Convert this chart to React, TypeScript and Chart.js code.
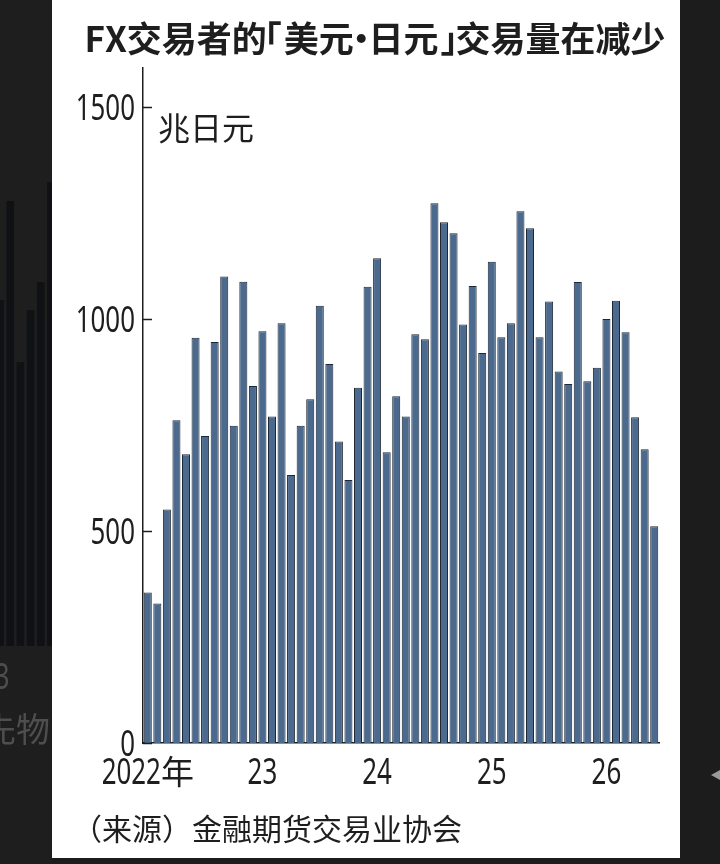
import { useEffect, useRef } from "react";
import { Chart, registerables } from "chart.js";

Chart.register(...registerables);

// ---- data ----
const years: number[] = [2022, 2023, 2024, 2025, 2026];
const lastMonthOfFinalYear = 6;
const monthLabels: string[] = [];
years.forEach((y, yi) => {
  const end = yi === years.length - 1 ? lastMonthOfFinalYear : 12;
  for (let m = 1; m <= end; m++) monthLabels.push(`${y}-${String(m).padStart(2, "0")}`);
});

// 兆日元, monthly (Jan 2022 – Jun 2026)
const tradingVolume: number[] = [
  355, 329, 551, 761, 681, 956, 724, 946, 1100, 748, 1088, 842,
  971, 770, 990, 632, 748, 811, 1031, 894, 711, 620, 838, 1076,
  1143, 686, 818, 770, 964, 952, 1273, 1228, 1202, 987, 1078, 920,
  1135, 957, 990, 1254, 1214, 957, 1041, 876, 847, 1087, 853, 885,
  1000, 1043, 969, 768, 693, 511,
];

const yTickValues: number[] = [0, 500, 1000, 1500];
const yearTickLabels: string[] = ["2022年", "23", "24", "25", "26"];

const titleText = "FX交易者的「美元·日元」交易量在减少";
const unitText = "兆日元";
const sourceText = "（来源）金融期货交易业协会";

// neighbouring slide fragment on the left edge
const sideValues: number[] = [346, 445, 284, 336, 364, 464];

// ---- styles ----
const BAR_FILL = "#4b6a8d";
const BAR_EDGE = "#1d2836";
const INK = "#1e1e1e";
const DIGIT_SX = 0.72;

function drawMixed(
  ctx: CanvasRenderingContext2D,
  text: string,
  x: number,
  cy: number,
  align: "left" | "center" | "right",
  digitPx: number,
  cjkPx: number,
  color: string
) {
  const runs = text.match(/[0-9]+|[^0-9]+/g) || [];
  const digitFont = `${digitPx}px "Noto Sans", "DejaVu Sans", sans-serif`;
  const cjkFont = `${cjkPx}px "Noto Sans CJK SC", sans-serif`;
  const widths = runs.map((r) => {
    const isD = /^[0-9]/.test(r);
    ctx.font = isD ? digitFont : cjkFont;
    const w = ctx.measureText(r).width;
    return isD ? w * DIGIT_SX : w;
  });
  const total = widths.reduce((a, b) => a + b, 0);
  let cur = align === "right" ? x - total : align === "center" ? x - total / 2 : x;
  ctx.save();
  ctx.fillStyle = color;
  ctx.textAlign = "left";
  ctx.textBaseline = "alphabetic";
  runs.forEach((r, i) => {
    const isD = /^[0-9]/.test(r);
    if (isD) {
      ctx.font = digitFont;
      ctx.save();
      ctx.translate(cur, cy + digitPx * 0.357);
      ctx.scale(DIGIT_SX, 1);
      ctx.fillText(r, 0, 0);
      ctx.restore();
    } else {
      ctx.font = cjkFont;
      ctx.fillText(r, cur, cy + cjkPx * 0.38);
    }
    cur += widths[i];
  });
  ctx.restore();
}

// title with narrow (proportional) brackets and middle dot
function drawTitle(ctx: CanvasRenderingContext2D, text: string, cx: number, cy: number, px: number) {
  ctx.save();
  ctx.font = `bold ${px}px "Noto Sans CJK SC", sans-serif`;
  ctx.fillStyle = INK;
  ctx.textAlign = "left";
  ctx.textBaseline = "alphabetic";
  const items = Array.from(text).map((ch) => {
    const m = ctx.measureText(ch);
    if (ch === "「" || ch === "」") {
      const inkL = -m.actualBoundingBoxLeft;
      const inkW = m.actualBoundingBoxRight + m.actualBoundingBoxLeft;
      return { ch, adv: inkW + 4, dx: 2 - inkL };
    }
    if (ch === "·") {
      const inkL = -m.actualBoundingBoxLeft;
      const inkW = m.actualBoundingBoxRight + m.actualBoundingBoxLeft;
      const adv = px * 0.42;
      return { ch, adv, dx: (adv - inkW) / 2 - inkL };
    }
    return { ch, adv: m.width, dx: 0 };
  });
  const total = items.reduce((a, b) => a + b.adv, 0);
  let cur = cx - total / 2;
  const base = cy + px * 0.38;
  items.forEach((it) => {
    ctx.fillText(it.ch, cur + it.dx, base);
    cur += it.adv;
  });
  ctx.restore();
}

const backgroundPlugin = {
  id: "pageBackground",
  beforeDraw(chart: any) {
    const ctx: CanvasRenderingContext2D = chart.ctx;
    ctx.save();
    ctx.fillStyle = "#1c1c1c";
    ctx.fillRect(0, 0, chart.width, chart.height);
    ctx.fillStyle = "#ffffff";
    ctx.fillRect(52, 0, 628, 858);
    // small grey arrow on the right edge
    ctx.fillStyle = "#9a9a9a";
    ctx.beginPath();
    ctx.moveTo(711, 775);
    ctx.lineTo(720, 770);
    ctx.lineTo(720, 780);
    ctx.closePath();
    ctx.fill();
    ctx.restore();
  },
};

const textPlugin = {
  id: "chartTexts",
  afterDraw(chart: any) {
    const ctx: CanvasRenderingContext2D = chart.ctx;
    const xs = chart.scales.x;
    const ys = chart.scales.y;
    const left = chart.chartArea.left;

    // inward tick marks + y labels
    ctx.save();
    ctx.strokeStyle = INK;
    ctx.lineWidth = 1.5;
    yTickValues.forEach((v) => {
      const y = Math.round(ys.getPixelForValue(v)) + 0.5;
      ctx.beginPath();
      ctx.moveTo(left, y);
      ctx.lineTo(left + 9, y);
      ctx.stroke();
      drawMixed(ctx, String(v), left - 8, y, "right", 36, 31, INK);
    });
    ctx.restore();

    // year labels under January bars
    yearTickLabels.forEach((lab, i) => {
      const x = xs.getPixelForValue(i * 12);
      drawMixed(ctx, lab, x, 771, "center", 36, 33, INK);
    });

    // title
    drawTitle(ctx, titleText, 375, 39, 35);

    // unit
    drawMixed(ctx, unitText, 158, 128, "left", 36, 32, INK);
    // source
    drawMixed(ctx, sourceText, 72, 829, "left", 36, 30, INK);
  },
};

const sideTextPlugin = {
  id: "sideTexts",
  beforeDraw(chart: any) {
    const ctx: CanvasRenderingContext2D = chart.ctx;
    ctx.save();
    ctx.fillStyle = "#1e1e1e";
    ctx.fillRect(0, 0, chart.width, chart.height);
    ctx.restore();
  },
  afterDraw(chart: any) {
    const ctx: CanvasRenderingContext2D = chart.ctx;
    // canvas is shifted 5px to the left of the page
    drawMixed(ctx, "3", 14.5, 676, "right", 36, 33, "#4e4e4e");
    drawMixed(ctx, "先物", 5 - 18, 729, "left", 36, 34, "#4e4e4e");
  },
};

export default function App() {
  const mainRef = useRef<HTMLCanvasElement>(null);
  const sideRef = useRef<HTMLCanvasElement>(null);

  useEffect(() => {
    const main = new Chart(mainRef.current as HTMLCanvasElement, {
      type: "bar",
      data: {
        labels: monthLabels,
        datasets: [
          {
            data: tradingVolume,
            backgroundColor: BAR_FILL,
            borderColor: BAR_EDGE,
            borderWidth: 1,
            barPercentage: 0.84,
            categoryPercentage: 1,
          },
        ],
      },
      options: {
        responsive: false,
        animation: false,
        devicePixelRatio: 1,
        layout: { padding: { left: 143, right: 61, top: 68, bottom: 121 } },
        plugins: {
          legend: { display: false },
          tooltip: { enabled: false },
          title: { display: false },
        },
        scales: {
          x: {
            z: 1,
            grid: { display: false, drawTicks: false },
            ticks: { display: false },
            border: { display: true, color: INK, width: 1.5 },
          },
          y: {
            z: 1,
            min: 0,
            max: 1592,
            afterBuildTicks: (s: any) => {
              s.ticks = yTickValues.map((v) => ({ value: v }));
            },
            grid: { display: false, drawTicks: false },
            ticks: { display: false },
            border: { display: true, color: INK, width: 1.5 },
          },
        },
      },
      plugins: [backgroundPlugin, textPlugin],
    } as any);

    const side = new Chart(sideRef.current as HTMLCanvasElement, {
      type: "bar",
      data: {
        labels: sideValues.map((_, i) => String(i)),
        datasets: [
          {
            data: sideValues,
            backgroundColor: "#0f1114",
            borderWidth: 0,
            barPercentage: 0.74,
            categoryPercentage: 1,
          },
        ],
      },
      options: {
        responsive: false,
        animation: false,
        devicePixelRatio: 1,
        layout: { padding: { left: 0, right: 0, top: 170, bottom: 218 } },
        plugins: { legend: { display: false }, tooltip: { enabled: false } },
        scales: {
          x: { display: false },
          y: { display: false, min: 0, max: 476 },
        },
      },
      plugins: [sideTextPlugin],
    } as any);

    return () => {
      main.destroy();
      side.destroy();
    };
  }, []);

  return (
    <div
      style={{
        position: "fixed",
        left: 0,
        top: 0,
        width: 720,
        height: 864,
        background: "#1c1c1c",
        overflow: "hidden",
      }}
    >
      <canvas
        ref={mainRef}
        width={720}
        height={864}
        style={{ position: "absolute", left: 0, top: 0, width: 720, height: 864 }}
      />
      <div style={{ position: "absolute", left: 0, top: 0, width: 52, height: 864, overflow: "hidden" }}>
        <canvas
          ref={sideRef}
          width={61}
          height={864}
          style={{ position: "absolute", left: -5, top: 0, width: 61, height: 864 }}
        />
      </div>
    </div>
  );
}
